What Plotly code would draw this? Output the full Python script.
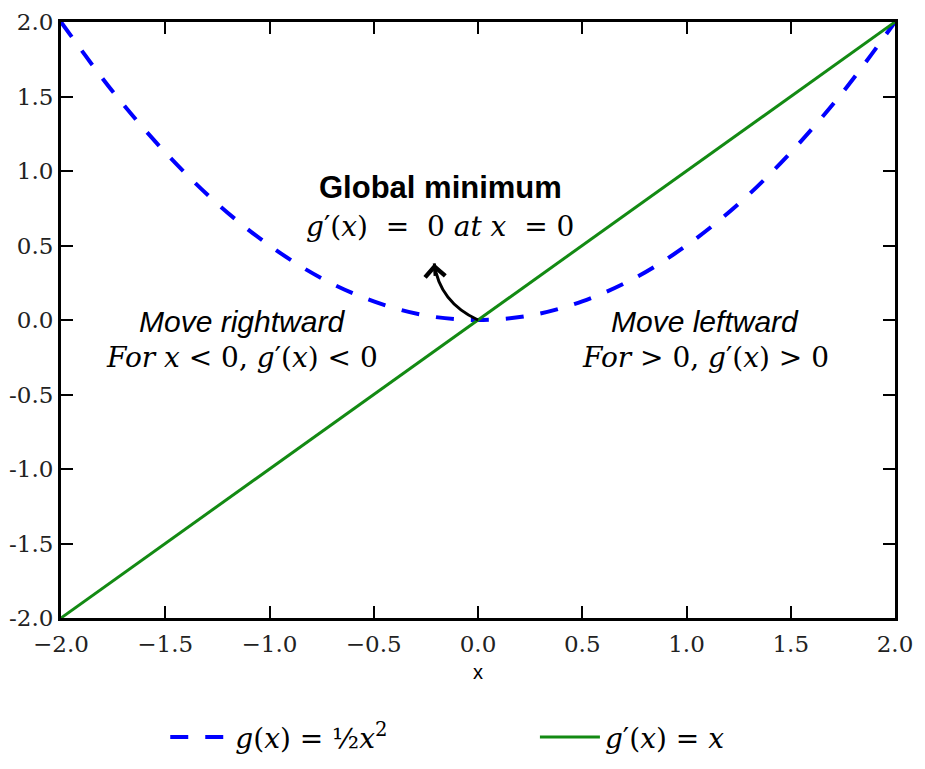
import plotly.graph_objects as go

# Data
x_vals = [-2.0, -1.75, -1.5, -1.25, -1.0, -0.75, -0.5, -0.25, 0.0, 0.25, 0.5, 0.75, 1.0, 1.25, 1.5, 1.75, 2.0]
g_vals = [2.0, 1.53, 1.125, 0.78, 0.5, 0.28, 0.125, 0.03, 0.0, 0.03, 0.125, 0.28, 0.5, 0.78, 1.125, 1.53, 2.0]
dx_vals = [-2.0, 0.0, 2.0]
dg_vals = [-2.0, 0.0, 2.0]

x_ticks = [-2.0, -1.5, -1.0, -0.5, 0.0, 0.5, 1.0, 1.5, 2.0]
x_ticktext = ["\u22122.0", "\u22121.5", "\u22121.0", "\u22120.5", "0.0", "0.5", "1.0", "1.5", "2.0"]
y_ticks = [-2.0, -1.5, -1.0, -0.5, 0.0, 0.5, 1.0, 1.5, 2.0]
y_ticktext = ["-2.0", "-1.5", "-1.0", "-0.5", "0.0", "0.5", "1.0", "1.5", "2.0"]

# curved arrow geometry (data coords)
arrow_tail = (0.0, 0.0)
arrow_ctrl = (-0.185, 0.12)
arrow_tip = (-0.21, 0.38)

serif = "DejaVu Serif"
sans = "Liberation Sans, Arial, sans-serif"

fig = go.Figure()
fig.add_trace(go.Scatter(
    x=x_vals, y=g_vals, mode="lines", line=dict(color="#0000ff", width=4, dash="18px,17px", shape="spline"),
    name="<i>g</i>(<i>x</i>) = \u00bd<i>x</i><sup>2</sup>                "))
fig.add_trace(go.Scatter(
    x=dx_vals, y=dg_vals, mode="lines", line=dict(color="#138a13", width=3),
    name="<i>g</i>\u2032(<i>x</i>) = <i>x</i>"))

fig.add_shape(type="path",
              path=f"M {arrow_tail[0]},{arrow_tail[1]} Q {arrow_ctrl[0]},{arrow_ctrl[1]} {arrow_tip[0]},{arrow_tip[1]}",
              xref="x", yref="y", line=dict(color="black", width=3))
fig.add_annotation(x=arrow_tip[0], y=arrow_tip[1], ax=1, ay=14, text="", showarrow=True,
                   arrowhead=4, arrowsize=1.3, arrowwidth=3, arrowcolor="black", xref="x", yref="y")

fig.add_annotation(x=-0.18, y=0.89, text="<b>Global minimum</b>", showarrow=False,
                   font=dict(family=sans, size=31, color="black"))
fig.add_annotation(x=-0.18, y=0.63, text="<i>g</i>\u2032(<i>x</i>)  =  0 <i>at x</i>  = 0", showarrow=False,
                   font=dict(family=serif, size=28, color="black"))
fig.add_annotation(x=-1.13, y=-0.01, text="<i>Move rightward</i>", showarrow=False,
                   font=dict(family=sans, size=30, color="black"))
fig.add_annotation(x=-1.13, y=-0.25, text="<i>For x</i> < 0, <i>g</i>\u2032(<i>x</i>) < 0", showarrow=False,
                   font=dict(family=serif, size=28, color="black"))
fig.add_annotation(x=1.09, y=-0.01, text="<i>Move leftward</i>", showarrow=False,
                   font=dict(family=sans, size=30, color="black"))
fig.add_annotation(x=1.09, y=-0.25, text="<i>For</i> > 0, <i>g</i>\u2032(<i>x</i>) > 0", showarrow=False,
                   font=dict(family=serif, size=28, color="black"))
# x-axis title
fig.add_annotation(x=0.5, y=-0.09, xref="paper", yref="paper", text="x", showarrow=False,
                   yanchor="middle", font=dict(family=sans, size=20, color="black"))

axis_common = dict(showline=True, linewidth=3, linecolor="black", mirror="ticks", ticks="inside",
                   ticklen=12, tickwidth=2, tickcolor="black", showgrid=False, zeroline=False,
                   automargin=False, tickfont=dict(family=serif, size=23, color="#222"))
fig.update_xaxes(range=[-2, 2], tickvals=x_ticks, ticktext=x_ticktext, ticklabelstandoff=3, **axis_common)
fig.update_yaxes(range=[-2, 2], tickvals=y_ticks, ticktext=y_ticktext, **axis_common)

# page body has an 8px margin, so margins are shifted to keep the plot area in place
fig.update_layout(
    width=925, height=769,
    margin=dict(l=53, r=38, t=14, b=159, autoexpand=False),
    plot_bgcolor="white", paper_bgcolor="white",
    legend=dict(orientation="h", x=0.125, xanchor="left", y=-0.2, yanchor="middle",
                font=dict(family=serif, size=28, color="black"), itemwidth=60),
)

fig.write_html("out.html")
